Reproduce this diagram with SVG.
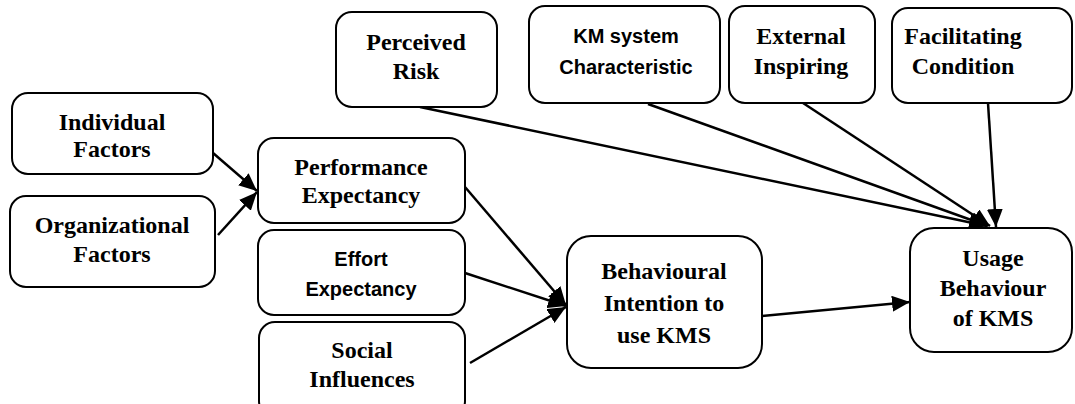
<svg xmlns="http://www.w3.org/2000/svg" width="1075" height="404" viewBox="0 0 1075 404">
<style>
.box{fill:#fff;stroke:#000;stroke-width:2}
.t{font-family:"Liberation Serif","Times New Roman",serif;font-weight:bold;font-size:24px;text-anchor:middle;fill:#000}
.s{font-family:"Liberation Sans",Arial,sans-serif;font-weight:bold;font-size:20px;text-anchor:middle;fill:#000}
.c{fill:none;stroke:#000;stroke-width:2.5}
</style>
<defs>
<marker id="ah" markerUnits="userSpaceOnUse" markerWidth="20" markerHeight="16" refX="18" refY="8" orient="auto">
<path d="M0,0 L18,8 L0,16 Z" fill="#000"/>
</marker>
</defs>
<rect width="1075" height="404" fill="#fff"/>
<g id="connectors">
<line class="c" x1="213" y1="153" x2="257" y2="191" marker-end="url(#ah)"/>
<line class="c" x1="218" y1="235" x2="257" y2="192" marker-end="url(#ah)"/>
<line class="c" x1="465" y1="187" x2="566" y2="305" marker-end="url(#ah)"/>
<line class="c" x1="465" y1="273" x2="566" y2="306" marker-end="url(#ah)"/>
<line class="c" x1="470" y1="363" x2="566" y2="307" marker-end="url(#ah)"/>
<line class="c" x1="762" y1="316" x2="910" y2="302" marker-end="url(#ah)"/>
<line class="c" x1="420" y1="107" x2="987" y2="226" marker-end="url(#ah)"/>
<line class="c" x1="648" y1="104" x2="988" y2="226" marker-end="url(#ah)"/>
<line class="c" x1="803" y1="103" x2="990" y2="226" marker-end="url(#ah)"/>
<line class="c" x1="988" y1="103" x2="996" y2="227" marker-end="url(#ah)"/>
</g>
<g id="perceived-risk">
<rect class="box" x="336" y="12" width="161" height="95" rx="16"/>
<text class="t" x="416" y="50">Perceived</text>
<text class="t" x="416" y="79">Risk</text>
</g>
<g id="km-system">
<rect class="box" x="529" y="6" width="191" height="97" rx="16"/>
<text class="s" x="626" y="43">KM system</text>
<text class="s" x="626" y="74">Characteristic</text>
</g>
<g id="external-inspiring">
<rect class="box" x="729" y="6" width="146" height="97" rx="16"/>
<text class="t" x="801" y="44">External</text>
<text class="t" x="801" y="74">Inspiring</text>
</g>
<g id="facilitating-condition">
<rect class="box" x="892" y="8" width="180" height="95" rx="16"/>
<text class="t" x="963" y="44">Facilitating</text>
<text class="t" x="963" y="74">Condition</text>
</g>
<g id="individual-factors">
<rect class="box" x="12" y="93" width="201" height="81" rx="16"/>
<text class="t" x="112" y="130">Individual</text>
<text class="t" x="112" y="157">Factors</text>
</g>
<g id="organizational-factors">
<rect class="box" x="10" y="196" width="205" height="91" rx="16"/>
<text class="t" x="112" y="233">Organizational</text>
<text class="t" x="112" y="262">Factors</text>
</g>
<g id="performance-expectancy">
<rect class="box" x="258" y="138" width="207" height="85" rx="16"/>
<text class="t" x="361" y="175">Performance</text>
<text class="t" x="361" y="203">Expectancy</text>
</g>
<g id="effort-expectancy">
<rect class="box" x="258" y="230" width="207" height="85" rx="16"/>
<text class="s" x="361" y="266">Effort</text>
<text class="s" x="361" y="296">Expectancy</text>
</g>
<g id="social-influences">
<rect class="box" x="259" y="322" width="206" height="95" rx="16"/>
<text class="t" x="362" y="358">Social</text>
<text class="t" x="362" y="387">Influences</text>
</g>
<g id="behavioural-intention">
<rect class="box" x="567" y="236" width="195" height="132" rx="24"/>
<text class="t" x="664" y="279">Behavioural</text>
<text class="t" x="664" y="311">Intention to</text>
<text class="t" x="664" y="343">use KMS</text>
</g>
<g id="usage-behaviour">
<rect class="box" x="910" y="228" width="162" height="124" rx="24"/>
<text class="t" x="993" y="266">Usage</text>
<text class="t" x="993" y="296">Behaviour</text>
<text class="t" x="993" y="326">of KMS</text>
</g>
</svg>
